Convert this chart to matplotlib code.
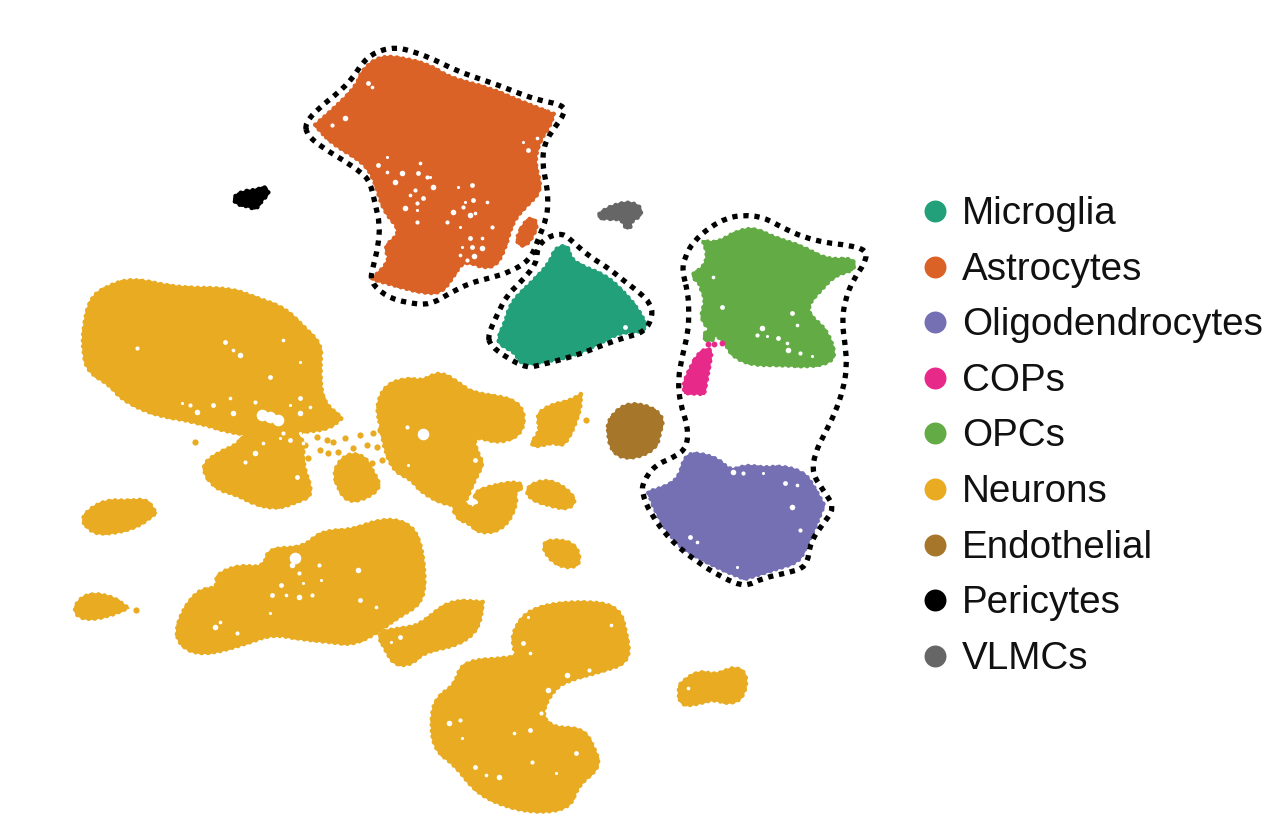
import matplotlib
matplotlib.use('Agg')
import matplotlib.pyplot as plt
from matplotlib.path import Path
from matplotlib.patches import PathPatch

plt.rcParams['font.family'] = ['Liberation Sans', 'DejaVu Sans']

CellTypes = ['Microglia', 'Astrocytes', 'Oligodendrocytes', 'COPs', 'OPCs',
	'Neurons', 'Endothelial', 'Pericytes', 'VLMCs']
PlotColors = {
	'Microglia': '#21A07A',
	'Astrocytes': '#DA6226',
	'Oligodendrocytes': '#7570B3',
	'COPs': '#E7298A',
	'OPCs': '#63AB44',
	'Neurons': '#E8AB21',
	'Endothelial': '#A6762A',
	'Pericytes': '#000000',
	'VLMCs': '#666666'
}

# a point written twice keeps the curve close to it, used on the sharp tips
Astrocytes = [(315,125),(315,125),(338,105),(357,85),(362,70),(380,56),(403,58),(430,65),(450,78),(490,88),(517,100),(554,114),(554,114),(549,128),(540,140),(534,163),(543,190),(525,207),(512,223),(505,250),(495,267),(480,267),(473,263),(462,263),(455,274),(442,293),(423,293),(400,287),(372,279),(372,279),(391,260),(383,247),(402,232),(385,213),(378,193),(373,177),(363,162),(331,143)]
AstrocytesSmall = [(528,216),(539,223),(530,242),(522,247),(515,240)]
Microglia = [(498,337),(505,323),(511,302),(531,283),(550,263),(555,248),(568,245),(570,257),(579,265),(605,275),(622,290),(639,310),(646,325),(646,325),(642,332),(620,332),(597,345),(570,357),(543,362),(521,365),(515,352),(500,345)]
Vlmcs = [(596,217),(605,209),(618,204),(630,202),(641,207),(641,216),(631,221),(631,228),(625,228),(622,219),(607,219)]
Pericytes = [(232,198),(243,191),(258,190),(264,186),(270,193),(262,200),(256,210),(248,206),(238,205)]
Opcs = [(690,275),(703,268),(708,255),(703,241),(703,241),(717,243),(737,231),(755,228),(775,238),(802,246),(827,260),(854,258),(855,270),(835,275),(822,289),(809,303),(809,315),(825,328),(835,350),(832,362),(810,367),(783,365),(750,365),(731,355),(725,342),(709,330),(700,317),(706,300),(701,290),(700,283)]
OpcsSmall = [(702,335),(712,328),(716,338),(708,342)]
Cops = [(700,351),(712,348),(710,363),(704,394),(704,394),(685,393),(685,393),(683,385),(690,368)]
CopsDots = [(708,344),(714,344),(722,343)]
Oligodendrocytes = [(648,492),(648,492),(670,485),(680,475),(685,455),(700,453),(720,460),(730,471),(747,465),(763,468),(783,466),(805,473),(814,487),(824,505),(824,505),(815,528),(805,549),(799,562),(773,570),(745,579),(745,579),(720,569),(691,554),(675,542),(658,517)]
Endothelial = [(608,420),(625,403),(650,406),(664,418),(660,432),(657,447),(640,457),(620,458),(610,447),(608,432)]

NeuronIslands = [
	[(83,328),(90,298),(107,286),(133,278),(177,288),(230,288),(257,298),(285,308),(305,328),(322,345),(320,367),(322,401),(342,418),(342,418),(329,429),(303,432),(283,435),(237,435),(197,422),(153,415),(121,399),(110,385),(88,372),(83,353)],
	[(200,467),(217,453),(237,445),(243,435),(283,431),(305,437),(302,463),(314,495),(297,502),(277,509),(253,504),(238,495),(215,489)],
	[(333,470),(347,453),(365,456),(372,470),(382,487),(365,499),(348,502),(338,489)],
	[(376,407),(385,385),(407,378),(423,381),(440,371),(462,385),(472,393),(522,400),(525,432),(500,444),(472,435),(479,457),(484,463),(472,485),(465,505),(445,505),(421,492),(411,479),(395,472),(385,452),(381,427)],
	[(451,503),(467,503),(473,511),(490,491),(510,485),(519,500),(505,529),(480,534),(468,522),(458,520)],
	[(525,487),(550,478),(577,497),(570,510),(547,505),(530,499)],
	[(473,491),(513,481),(525,486),(513,494),(490,495),(477,502)],
	[(536,415),(550,405),(570,401),(581,394),(581,394),(580,413),(565,447),(553,442),(537,447),(530,444),(541,430)],
	[(80,517),(103,500),(130,501),(147,499),(156,513),(156,513),(135,529),(100,535),(88,529)],
	[(176,623),(196,590),(218,588),(215,575),(239,565),(264,568),(268,548),(303,548),(321,531),(352,530),(378,520),(402,520),(420,535),(426,583),(420,605),(398,617),(376,634),(352,645),(330,642),(299,639),(272,634),(246,644),(202,656),(178,645)],
	[(376,632),(404,628),(420,625),(449,600),(483,602),(483,602),(479,629),(459,645),(424,652),(411,665),(394,665),(385,649)],
	[(541,540),(574,541),(582,563),(567,569),(548,559)],
	[(72,610),(85,593),(112,596),(128,608),(128,608),(107,617),(83,620)],
	[(431,713),(438,696),(455,685),(462,661),(510,658),(517,655),(513,647),(513,630),(530,608),(576,601),(618,605),(627,633),(630,662),(600,672),(569,680),(554,689),(541,713),(552,728),(583,728),(594,747),(601,767),(578,785),(570,809),(532,813),(495,803),(473,789),(455,765),(433,749)],
	[(678,687),(684,680),(699,671),(717,675),(735,666),(748,675),(743,699),(728,704),(713,699),(695,705),(680,705)]
]
NeuronDots = [(195,442),(242,439),(317,437),(327,440),(333,442),(345,438),(360,435),(373,433),(380,430),(320,450),(328,453),(338,452),(353,448),(367,445),(377,447),(372,463),(382,460),(305,445),(308,458),(586,420),(136,610)]

# gaps in the clouds
AstrocyteGaps = [(368,83),(372,87),(345,118),(332,125),(387,157),(378,165),(387,172),(395,182),(417,203),(417,210),(423,198),(410,195),(405,208),(427,177),(430,177),(418,173),(420,163),(433,187),(417,222),(465,202),(473,200),(475,213),(470,215),(463,207),(458,187),(472,185),(487,202),(453,212),(447,222),(460,227),(470,238),(482,238),(482,248),(492,227),(462,247),(472,247),(460,255),(474,256),(467,260),(523,142),(528,150),(537,138),(402,173),(415,190)]
MicrogliaGaps = [(625,327)]
OpcGaps = [(792,313),(797,325),(762,328),(757,335),(767,336),(778,338),(787,343),(788,350),(800,353),(812,356),(722,307),(713,277)]
OligoGaps = [(690,537),(697,542),(792,507),(800,530),(737,567),(785,483),(797,485),(733,472),(743,473),(763,473)]
NeuronGaps = [(225,342),(233,350),(240,355),(137,348),(300,362),(270,377),(283,340),(197,412),(190,405),(182,403),(213,405),(230,398),(233,413),(255,402),(290,405),(300,398),(310,407),(300,413),(283,433),(300,433),(290,440),(263,443),(255,453),(245,462),(280,438),(297,477),(303,443),(423,433),(407,427),(408,465),(475,460),(294,557),(292,565),(299,573),(303,583),(281,585),(286,595),(299,597),(312,595),(270,613),(272,595),(220,622),(215,627),(237,633),(321,580),(360,600),(376,607),(358,570),(319,565),(528,617),(523,643),(530,653),(548,690),(541,713),(552,713),(530,730),(514,733),(449,723),(460,720),(462,738),(475,767),(486,775),(499,777),(532,762),(556,773),(576,753),(611,625),(567,675),(589,670),(391,642),(400,637),(688,688)]
NeuronHoles = [(270,417),(278,420),(262,415),(423,434),(295,558)]
GapSizes = [12, 7, 16, 9, 5]

# dotted outlines
OutlineAstrocytes = [(305,123),(320,107),(338,93),(353,78),(362,63),(375,52),(395,47),(415,52),(435,60),(455,70),(477,78),(498,85),(518,93),(538,100),(563,105),(565,113),(555,127),(545,142),(542,162),(547,187),(548,200),(547,217),(538,240),(530,260),(510,272),(490,278),(470,283),(450,293),(430,305),(408,303),(387,297),(370,282),(373,267),(378,247),(380,225),(375,203),(370,182),(362,173),(343,160),(323,148),(307,135)]
OutlineMicroglia = [(488,335),(497,315),(507,295),(520,283),(537,263),(537,248),(547,237),(563,233),(573,242),(590,257),(607,267),(623,280),(640,293),(650,303),(653,315),(645,332),(623,338),(603,345),(583,353),(560,360),(540,365),(527,368),(507,358),(490,345)]
OutlineOligo = [(682,270),(685,257),(693,242),(710,227),(727,218),(743,215),(763,217),(783,228),(803,237),(827,243),(847,245),(867,250),(865,263),(853,280),(845,300),(842,322),(845,343),(847,367),(843,390),(835,413),(825,433),(815,453),(812,473),(823,490),(835,508),(822,525),(810,543),(807,567),(787,573),(763,578),(745,587),(723,578),(697,562),(670,540),(650,513),(642,493),(643,482),(655,465),(675,457),(687,447),(688,427),(680,403),(678,380),(682,357),(688,333),(689,313),(688,293)]


def smooth_path(points):
	# closed quadratic curve through the midpoints, the drawn points are the controls
	n = len(points)
	mids = [((points[i][0] + points[(i + 1) % n][0]) / 2, (points[i][1] + points[(i + 1) % n][1]) / 2) for i in range(n)]
	verts = [mids[-1]]
	codes = [Path.MOVETO]
	for i in range(n):
		verts += [points[i], mids[i]]
		codes += [Path.CURVE3, Path.CURVE3]
	return Path(verts, codes)


def draw_cloud(ax, outline, color):
	# solid fill, then two round dotted edges of different pitch for the packed point look
	path = smooth_path(outline)
	ax.add_patch(PathPatch(path, facecolor=color, edgecolor=color, linewidth=1.5, zorder=2))
	ax.add_patch(PathPatch(path, facecolor='none', edgecolor=color, linewidth=3.4,
		linestyle=(0, (0.01, 1.3)), capstyle='round', zorder=2))
	ax.add_patch(PathPatch(path, facecolor='none', edgecolor=color, linewidth=2.4,
		linestyle=(0, (0.01, 2.9)), capstyle='round', zorder=2))


def draw_dots(ax, points, color, size=14, zorder=3):
	xs, ys = zip(*points)
	ax.scatter(xs, ys, s=size, color=color, linewidths=0, zorder=zorder)


def draw_outline(ax, outline):
	ax.add_patch(PathPatch(smooth_path(outline), facecolor='none', edgecolor='black',
		linewidth=3.8, linestyle=(0, (1.0, 1.1)), capstyle='butt', zorder=4))


fig = plt.figure(figsize=(12.66, 8.16), dpi=100)
ax = fig.add_axes([0, 0, 1, 1])

draw_cloud(ax, Astrocytes, PlotColors['Astrocytes'])
draw_cloud(ax, AstrocytesSmall, PlotColors['Astrocytes'])
draw_cloud(ax, Microglia, PlotColors['Microglia'])
draw_cloud(ax, Vlmcs, PlotColors['VLMCs'])
draw_cloud(ax, Pericytes, PlotColors['Pericytes'])
draw_cloud(ax, Opcs, PlotColors['OPCs'])
draw_cloud(ax, OpcsSmall, PlotColors['OPCs'])
draw_cloud(ax, Cops, PlotColors['COPs'])
draw_dots(ax, CopsDots, PlotColors['COPs'], size=18)
draw_cloud(ax, Oligodendrocytes, PlotColors['Oligodendrocytes'])
draw_cloud(ax, Endothelial, PlotColors['Endothelial'])
for Island in NeuronIslands:
	draw_cloud(ax, Island, PlotColors['Neurons'])
draw_dots(ax, NeuronDots, PlotColors['Neurons'], size=20)

for Gaps in [AstrocyteGaps, MicrogliaGaps, OpcGaps, OligoGaps, NeuronGaps]:
	for i, Gap in enumerate(Gaps):
		draw_dots(ax, [Gap], 'white', size=GapSizes[i % len(GapSizes)])
draw_dots(ax, NeuronHoles, 'white', size=70)

draw_outline(ax, OutlineAstrocytes)
draw_outline(ax, OutlineMicroglia)
draw_outline(ax, OutlineOligo)

# legend
for i, CellType in enumerate(CellTypes):
	y = 211 + i * 55.6
	ax.scatter([935], [y], s=250, color=PlotColors[CellType], linewidths=0, zorder=5)
	ax.text(962, y + 3, CellType, fontsize=27.8, va='center', ha='left', color='#111111')

ax.set_xlim(0, 1266)
ax.set_ylim(816, 0)
ax.axis('off')

plt.savefig('out.png', dpi=100)
